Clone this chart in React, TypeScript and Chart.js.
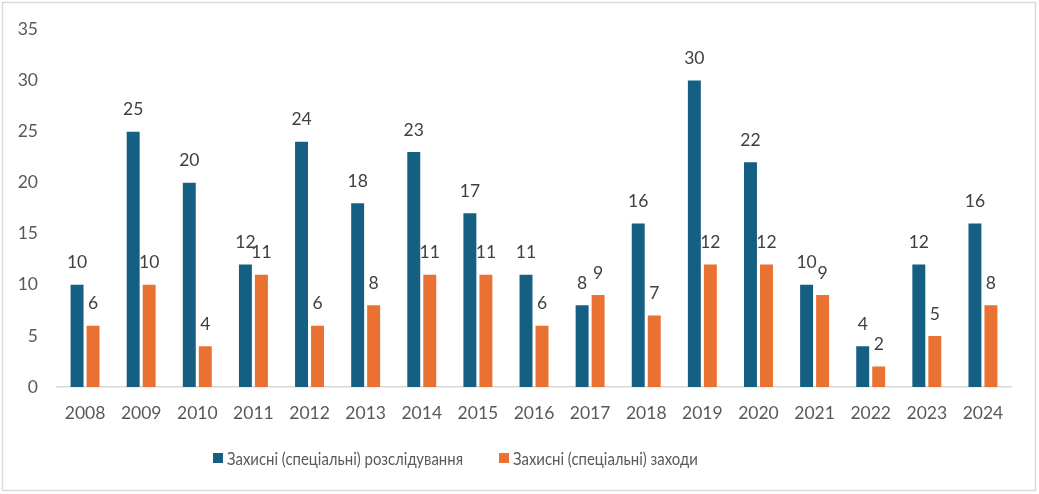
import { useEffect, useRef } from "react";
import { Chart, registerables } from "chart.js";

Chart.register(...registerables);

const years = ["2008", "2009", "2010", "2011", "2012", "2013", "2014", "2015", "2016", "2017", "2018", "2019", "2020", "2021", "2022", "2023", "2024"];
const investigations = [10, 25, 20, 12, 24, 18, 23, 17, 11, 8, 16, 30, 22, 10, 4, 12, 16];
const measures = [6, 10, 4, 11, 6, 8, 11, 11, 6, 9, 7, 12, 12, 9, 2, 5, 8];
const seriesNames = ["Захисні (спеціальні) розслідування", "Захисні (спеціальні) заходи"];
const seriesColors = ["#156082", "#E97132"];
const yMax = 35;
const yStep = 5;

const FONT = "Lato, 'Open Sans', sans-serif";

const framePlugin = {
  id: "frame",
  beforeDraw(chart: any) {
    const { ctx, width, height } = chart;
    ctx.save();
    ctx.fillStyle = "#ffffff";
    ctx.fillRect(0, 0, width, height);
    ctx.strokeStyle = "#D9D9D9";
    ctx.lineWidth = 1.5;
    ctx.strokeRect(2.5, 2.5, width - 6, height - 6);
    ctx.restore();
  },
};

const labelPlugin = {
  id: "barLabels",
  afterDatasetsDraw(chart: any) {
    const { ctx } = chart;
    ctx.save();
    ctx.font = `17.5px ${FONT}`;
    ctx.fillStyle = "#404040";
    ctx.textAlign = "center";
    ctx.textBaseline = "middle";
    chart.data.datasets.forEach((ds: any, i: number) => {
      const meta = chart.getDatasetMeta(i);
      meta.data.forEach((bar: any, j: number) => {
        ctx.fillText(String(ds.data[j]), bar.x, bar.y - 22);
      });
    });
    ctx.restore();
  },
};

const legendPlugin = {
  id: "customLegend",
  afterDraw(chart: any) {
    const { ctx } = chart;
    ctx.save();
    ctx.font = `17.5px ${FONT}`;
    ctx.textBaseline = "middle";
    ctx.textAlign = "left";
    const cy = 458;
    const w0 = ctx.measureText(seriesNames[0]).width;
    const sx = 236 / w0;
    let x = 213;
    chart.data.datasets.forEach((ds: any, i: number) => {
      ctx.fillStyle = ds.backgroundColor;
      ctx.fillRect(x, cy - 5, 10, 10);
      x += 14;
      const tw = ctx.measureText(ds.label).width * sx;
      ctx.save();
      ctx.translate(x, cy);
      ctx.scale(sx, 1);
      ctx.fillStyle = "#595959";
      ctx.fillText(ds.label, 0, 1);
      ctx.restore();
      x += tw + 36;
    });
    ctx.restore();
  },
};

export default function App() {
  const ref = useRef<HTMLCanvasElement | null>(null);
  useEffect(() => {
    document.body.style.margin = "0";
    const canvas = ref.current!;
    const chart = new Chart(canvas, {
      type: "bar",
      data: {
        labels: years,
        datasets: [
          { label: seriesNames[0], data: investigations, backgroundColor: seriesColors[0], categoryPercentage: 0.57, barPercentage: 0.81 },
          { label: seriesNames[1], data: measures, backgroundColor: seriesColors[1], categoryPercentage: 0.57, barPercentage: 0.81 },
        ],
      },
      options: {
        animation: false,
        responsive: false,
        maintainAspectRatio: false,
        layout: { padding: { top: 23, right: 28, bottom: 47, left: 0 } },
        plugins: { legend: { display: false }, tooltip: { enabled: false } },
        scales: {
          x: {
            grid: { display: false, drawTicks: false },
            border: { display: true, color: "#D9D9D9", width: 1.5 },
            ticks: { color: "#595959", font: { family: FONT, size: 17.5 }, padding: 16, maxRotation: 0, autoSkip: false },
            afterFit(scale: any) { scale.height = 60; },
          },
          y: {
            min: 0,
            max: yMax,
            grid: { display: false, drawTicks: false },
            border: { display: false },
            ticks: { stepSize: yStep, color: "#595959", font: { family: FONT, size: 17.5 }, padding: 19 },
            afterFit(scale: any) { scale.width = 57; },
          },
        },
      },
      plugins: [framePlugin, labelPlugin, legendPlugin],
    });
    return () => chart.destroy();
  }, []);
  return (
    <div style={{ width: 1039, height: 494 }}>
      <canvas ref={ref} width={1039} height={494} style={{ display: "block" }} />
    </div>
  );
}
